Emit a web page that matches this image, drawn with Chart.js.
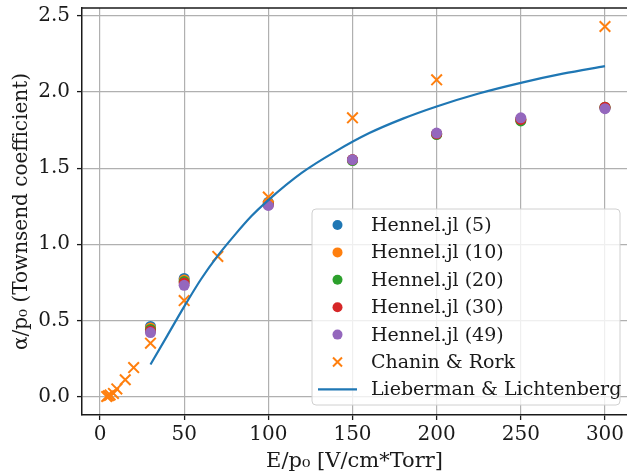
<!DOCTYPE html>
<html>
<head>
<meta charset="utf-8">
<script src="https://cdn.jsdelivr.net/npm/chart.js@4"></script>
<style>
  html, body { margin: 0; padding: 0; background: #ffffff; }
  #wrap { width: 627px; height: 476px; }
</style>
</head>
<body>
<div id="wrap"><canvas id="chart" width="627" height="476"></canvas></div>
<script>
// Hennel.jl runs (all share the same E/p0 points)
const hennelX = [30, 50, 100, 150, 200, 250, 300];
const hennel5 = [0.46, 0.775, 1.275, 1.555, 1.725, 1.82, 1.895];
const hennel10 = [0.45, 0.765, 1.27, 1.555, 1.725, 1.82, 1.895];
const hennel20 = [0.44, 0.755, 1.265, 1.55, 1.72, 1.81, 1.90];
const hennel30 = [0.43, 0.745, 1.26, 1.555, 1.725, 1.82, 1.90];
const hennel49 = [0.42, 0.73, 1.255, 1.555, 1.73, 1.83, 1.89];

// Chanin & Rork measurements
const chaninX = [4, 5, 6, 8, 10, 15, 20, 30, 50, 70, 100, 150, 200, 300];
const chaninY = [0.0, 0.005, 0.01, 0.02, 0.05, 0.11, 0.19, 0.35, 0.63, 0.92, 1.31, 1.83, 2.08, 2.43];

// Lieberman & Lichtenberg curve
const liebX = [30, 40, 50, 60, 70, 80, 90, 100, 120, 140, 160, 180, 200, 225, 250, 275, 300];
const liebY = [0.21, 0.40, 0.59, 0.77, 0.925, 1.06, 1.185, 1.29, 1.47, 1.61, 1.73, 1.825, 1.905, 1.99, 2.06, 2.12, 2.17];

// Tick labels
const xTicks = [0, 50, 100, 150, 200, 250, 300];
const yTicks = [0.0, 0.5, 1.0, 1.5, 2.0, 2.5];

const FONT = "'DejaVu Serif', serif";

const toPoints = (xs, ys) => xs.map((x, i) => ({ x, y: ys[i] }));

const hennelSeries = [
  { label: 'Hennel.jl (5)', data: hennel5, color: '#1f77b4', order: 6 },
  { label: 'Hennel.jl (10)', data: hennel10, color: '#ff7f0e', order: 5 },
  { label: 'Hennel.jl (20)', data: hennel20, color: '#2ca02c', order: 4 },
  { label: 'Hennel.jl (30)', data: hennel30, color: '#d62728', order: 3 },
  { label: 'Hennel.jl (49)', data: hennel49, color: '#9467bd', order: 2 }
];

const datasets = hennelSeries.map(s => ({
  label: s.label,
  data: toPoints(hennelX, s.data),
  backgroundColor: s.color,
  borderColor: s.color,
  pointStyle: 'circle',
  pointRadius: 5.5,
  pointBorderWidth: 0,
  showLine: false,
  order: s.order
}));

datasets.push({
  label: 'Chanin & Rork',
  data: toPoints(chaninX, chaninY),
  backgroundColor: '#ff7f0e',
  borderColor: '#ff7f0e',
  pointStyle: 'crossRot',
  pointRadius: 7.5,
  pointBorderWidth: 2,
  showLine: false,
  order: 1
});

datasets.push({
  label: 'Lieberman & Lichtenberg',
  data: toPoints(liebX, liebY),
  borderColor: '#1f77b4',
  backgroundColor: '#1f77b4',
  borderWidth: 2.2,
  pointRadius: 0,
  showLine: true,
  tension: 0.4,
  cubicInterpolationMode: 'monotone',
  order: 0
});

// Top spine + matplotlib-like legend inside the axes
const framePlugin = {
  id: 'frame',
  afterDatasetsDraw(chart) {
    const { ctx, chartArea: a } = chart;
    ctx.save();
    ctx.strokeStyle = '#1a1a1a';
    ctx.lineWidth = 1.5;
    ctx.beginPath();
    ctx.moveTo(a.left, a.top);
    ctx.lineTo(a.right, a.top);
    ctx.stroke();

    // legend box
    const bx = 312, by = 209, bw = 308, bh = 196, r = 4;
    ctx.beginPath();
    ctx.moveTo(bx + r, by);
    ctx.arcTo(bx + bw, by, bx + bw, by + bh, r);
    ctx.arcTo(bx + bw, by + bh, bx, by + bh, r);
    ctx.arcTo(bx, by + bh, bx, by, r);
    ctx.arcTo(bx, by, bx + bw, by, r);
    ctx.closePath();
    ctx.fillStyle = 'rgba(255,255,255,0.8)';
    ctx.fill();
    ctx.strokeStyle = '#d0d0d0';
    ctx.lineWidth = 1;
    ctx.stroke();

    const rowY0 = 225, rowStep = 27.4, markX = 337.5, textX = 371;
    ctx.font = '19px ' + FONT;
    ctx.textBaseline = 'middle';
    ctx.textAlign = 'left';
    chart.data.datasets.forEach((ds, i) => {
      const y = rowY0 + i * rowStep;
      if (ds.showLine) {
        ctx.strokeStyle = ds.borderColor;
        ctx.lineWidth = 2.2;
        ctx.beginPath();
        ctx.moveTo(318, y);
        ctx.lineTo(357, y);
        ctx.stroke();
      } else if (ds.pointStyle === 'crossRot') {
        ctx.strokeStyle = ds.borderColor;
        ctx.lineWidth = 2;
        const d = 4.5;
        ctx.beginPath();
        ctx.moveTo(markX - d, y - d);
        ctx.lineTo(markX + d, y + d);
        ctx.moveTo(markX - d, y + d);
        ctx.lineTo(markX + d, y - d);
        ctx.stroke();
      } else {
        ctx.fillStyle = ds.backgroundColor;
        ctx.beginPath();
        ctx.arc(markX, y, 5, 0, Math.PI * 2);
        ctx.fill();
      }
      ctx.fillStyle = '#1a1a1a';
      ctx.fillText(ds.label, textX, y + 1);
    });
    ctx.restore();
  }
};

const axisCommon = {
  type: 'linear',
  grid: {
    color: '#b0b0b0',
    lineWidth: 1.2,
    drawTicks: true,
    tickLength: 5,
    tickColor: '#1a1a1a',
    tickWidth: 1.3
  },
  border: { display: true, color: '#1a1a1a', width: 1.5 }
};

new Chart(document.getElementById('chart'), {
  type: 'scatter',
  data: { datasets },
  plugins: [framePlugin],
  options: {
    responsive: false,
    animation: false,
    layout: { autoPadding: false, padding: { top: 8, left: 0, right: 0, bottom: 0 } },
    plugins: {
      legend: { display: false },
      tooltip: { enabled: false }
    },
    scales: {
      x: {
        ...axisCommon,
        min: -10.69,
        max: 313.08,
        afterBuildTicks(scale) {
          scale.ticks = xTicks.map(v => ({ value: v }));
        },
        afterFit(scale) {
          scale.height = 61;
          scale.paddingLeft = 0;
          scale.paddingRight = 0;
        },
        ticks: {
          color: '#1a1a1a',
          font: { family: FONT, size: 20 },
          padding: 3,
          maxRotation: 0,
          callback: v => String(v)
        },
        title: {
          display: true,
          text: 'E/p₀ [V/cm*Torr]',
          color: '#1a1a1a',
          font: { family: FONT, size: 21 },
          padding: { top: 0, bottom: 2 }
        }
      },
      y: {
        ...axisCommon,
        min: -0.1215,
        max: 2.5515,
        afterBuildTicks(scale) {
          scale.ticks = yTicks.map(v => ({ value: v }));
        },
        afterFit(scale) {
          scale.width = 82;
          scale.paddingTop = 0;
          scale.paddingBottom = 0;
        },
        ticks: {
          color: '#1a1a1a',
          font: { family: FONT, size: 20 },
          padding: 7,
          callback: v => v.toFixed(1)
        },
        title: {
          display: true,
          text: 'α/p₀ (Townsend coefficient)',
          color: '#1a1a1a',
          font: { family: FONT, size: 20 },
          padding: { top: 10, bottom: 0 }
        }
      }
    }
  }
});
</script>
</body>
</html>
